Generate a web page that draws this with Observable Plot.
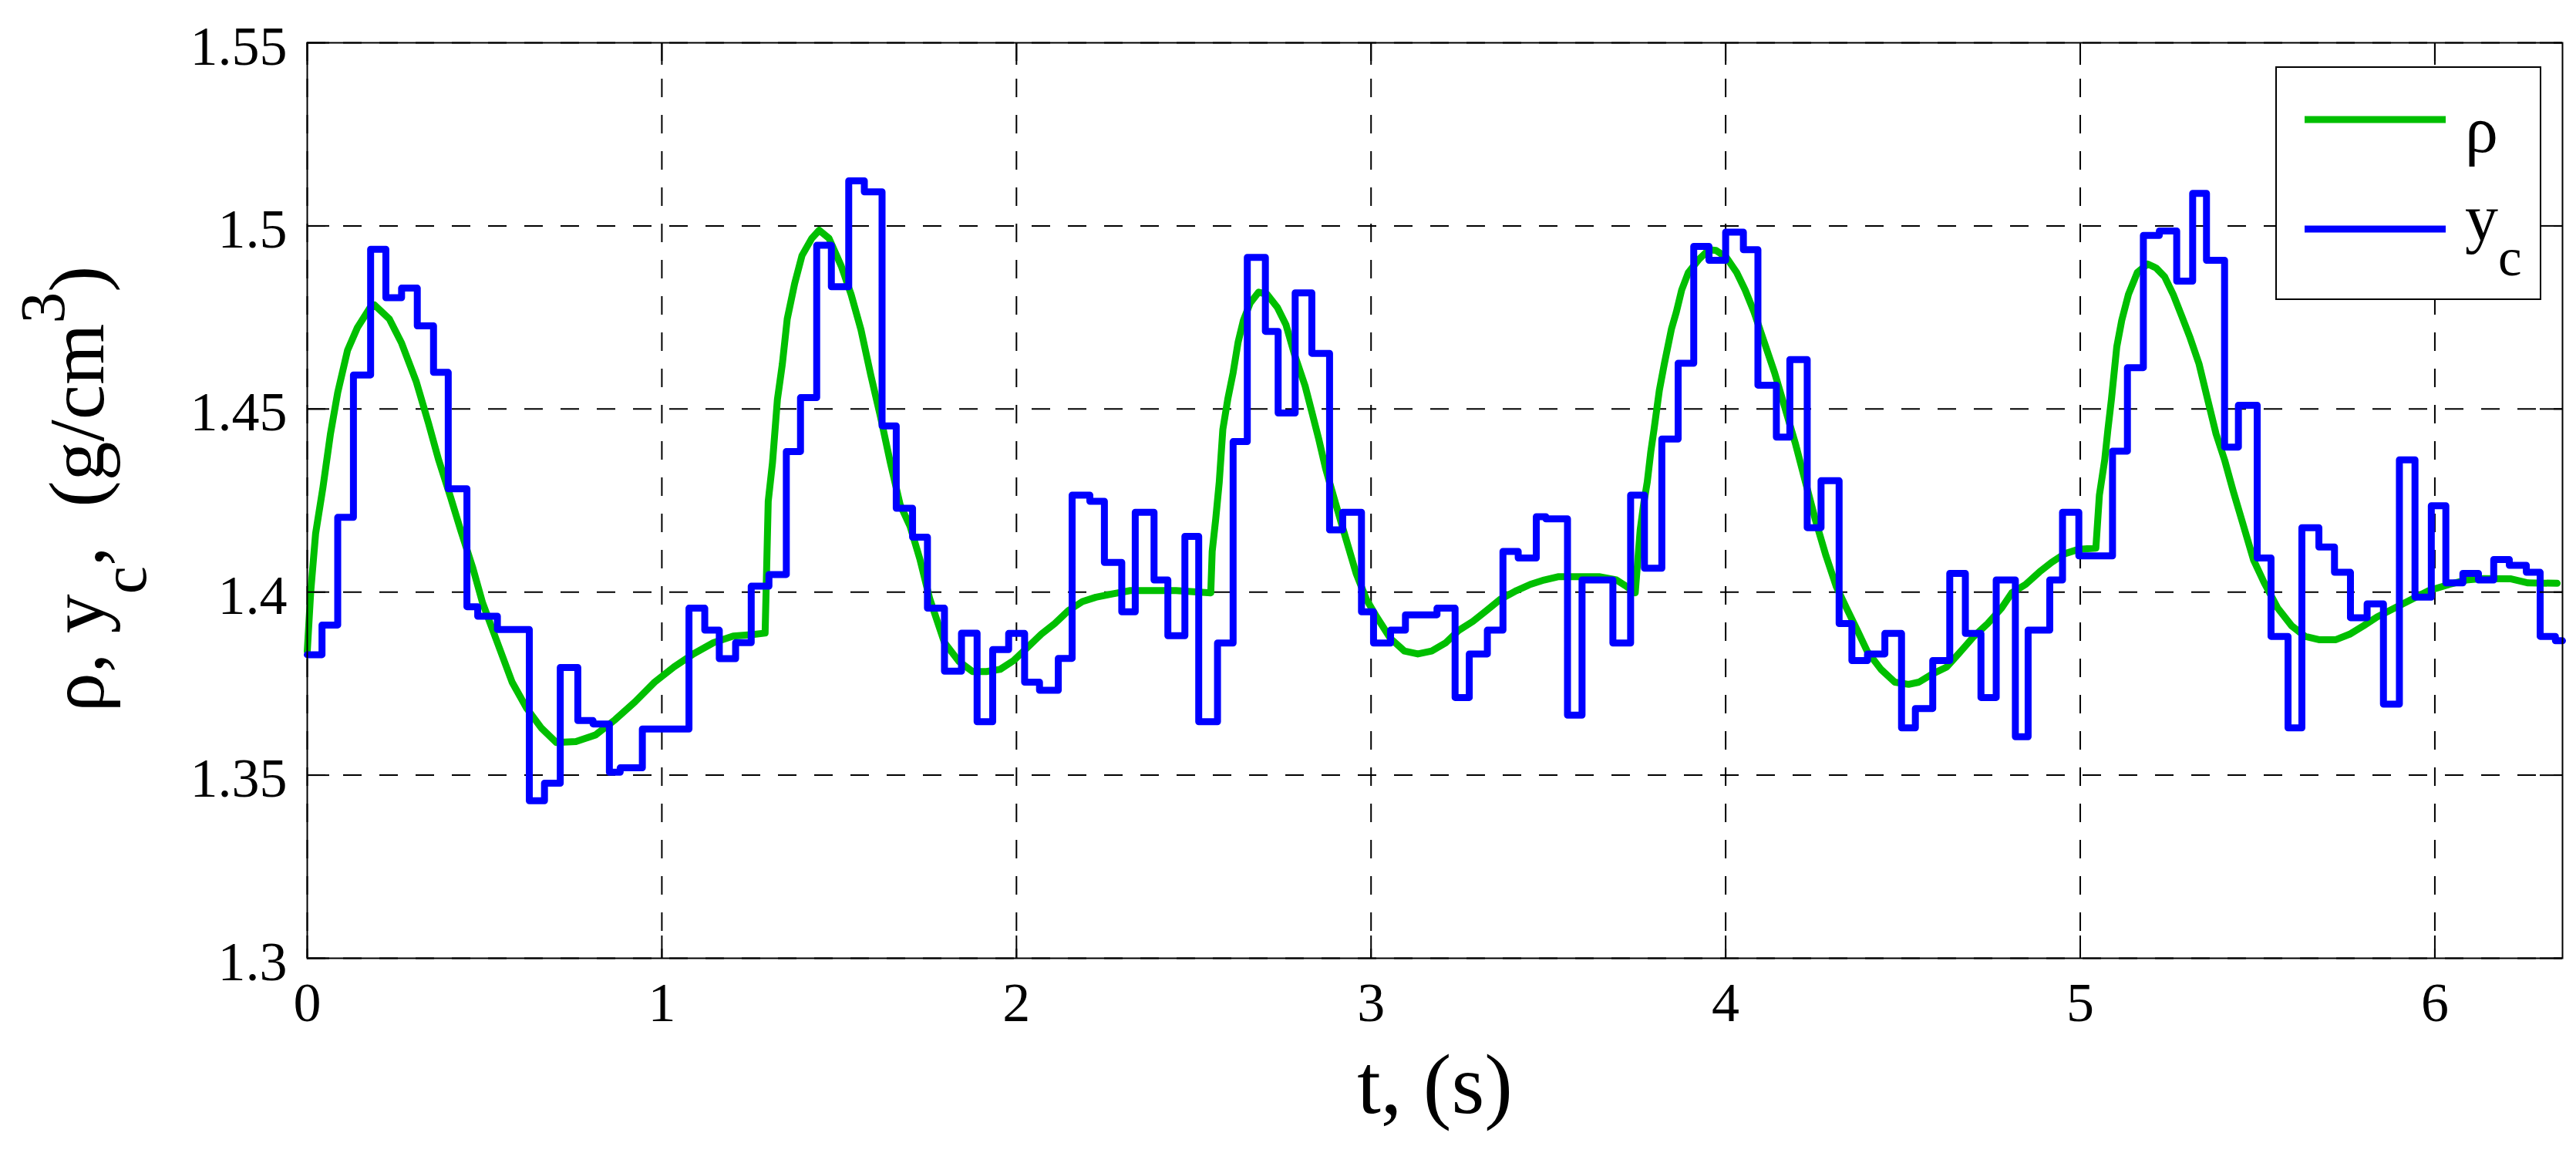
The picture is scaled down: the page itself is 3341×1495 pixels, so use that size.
<!DOCTYPE html>
<html><head><meta charset="utf-8">
<script src="https://cdn.jsdelivr.net/npm/d3@7"></script>
<script src="https://cdn.jsdelivr.net/npm/@observablehq/plot@0.6"></script>
<style>
html,body{margin:0;padding:0;background:#fff;}
#chart{position:relative;width:3341px;height:1495px;}
</style></head><body><div id="chart"></div>
<script>
// ---- data ----
const rhoT = [0,0.0097,0.0236,0.0443,0.0651,0.0859,0.1136,0.1413,0.176,0.1898,0.2314,0.266,0.3076,0.3422,0.3699,0.4045,0.4323,0.4669,0.4946,0.5362,0.5777,0.6193,0.6608,0.7024,0.7578,0.8132,0.8687,0.9241,0.9795,1.0349,1.0903,1.1458,1.2012,1.2566,1.2912,1.300,1.312,1.3259,1.3397,1.3536,1.3744,1.3952,1.4229,1.4436,1.4714,1.506,1.5337,1.5614,1.5891,1.6168,1.6445,1.6722,1.70,1.7277,1.7554,1.797,1.8385,1.876,1.915,1.954,1.992,2.031,2.070,2.108,2.147,2.186,2.224,2.27,2.321,2.45,2.548,2.552,2.562,2.572,2.582,2.596,2.611,2.625,2.640,2.659,2.683,2.707,2.736,2.760,2.785,2.814,2.833,2.852,2.872,2.900,2.929,2.958,2.987,3.016,3.055,3.094,3.132,3.171,3.210,3.248,3.287,3.326,3.364,3.410,3.449,3.488,3.527,3.565,3.643,3.692,3.721,3.745,3.759,3.769,3.779,3.789,3.798,3.813,3.827,3.847,3.861,3.876,3.895,3.924,3.953,3.973,4.002,4.031,4.055,4.080,4.109,4.138,4.167,4.196,4.225,4.254,4.283,4.312,4.341,4.371,4.400,4.438,4.477,4.516,4.545,4.584,4.623,4.662,4.700,4.739,4.778,4.807,4.846,4.885,4.919,4.957,4.996,5.044,5.054,5.069,5.078,5.088,5.103,5.117,5.136,5.161,5.190,5.214,5.238,5.262,5.286,5.310,5.335,5.359,5.383,5.407,5.431,5.460,5.489,5.518,5.557,5.596,5.634,5.673,5.721,5.760,5.799,5.837,5.886,5.934,5.983,6.041,6.089,6.137,6.215,6.263,6.345];
const rhoV = [1.3838,1.400,1.416,1.4286,1.443,1.4545,1.466,1.4722,1.4775,1.4784,1.4746,1.468,1.4574,1.446,1.4363,1.4258,1.417,1.4066,1.397,1.3862,1.3754,1.3682,1.3628,1.3589,1.3592,1.361,1.3652,1.370,1.3754,1.3796,1.3832,1.3862,1.388,1.3884,1.3888,1.4248,1.4353,1.4526,1.4622,1.4746,1.4842,1.4919,1.4966,1.4988,1.4966,1.489,1.4813,1.4717,1.4593,1.4478,1.4353,1.4238,1.418,1.409,1.3982,1.3862,1.381,1.3783,1.3783,1.3789,1.3813,1.3849,1.3885,1.3914,1.395,1.3974,1.3986,1.3995,1.4004,1.4004,1.3998,1.4111,1.420,1.4301,1.4444,1.4527,1.4599,1.4682,1.4742,1.4789,1.4819,1.4813,1.4777,1.473,1.4646,1.4563,1.4492,1.442,1.4337,1.4242,1.4146,1.4051,1.398,1.3932,1.3873,1.3839,1.3831,1.3839,1.3861,1.3896,1.392,1.395,1.398,1.4004,1.4021,1.4033,1.4042,1.4042,1.4042,1.4033,1.4015,1.3998,1.417,1.4242,1.4301,1.4384,1.4444,1.4551,1.4623,1.4718,1.4765,1.4825,1.4873,1.4908,1.4935,1.4933,1.4914,1.4873,1.4825,1.4765,1.4682,1.4599,1.4504,1.4408,1.4301,1.4194,1.4099,1.4015,1.3956,1.3896,1.3837,1.3789,1.3754,1.3748,1.3754,1.3777,1.3795,1.3837,1.3879,1.3914,1.3956,1.3998,1.4021,1.4055,1.4081,1.4105,1.4117,1.412,1.4265,1.4361,1.4444,1.4527,1.467,1.4742,1.4813,1.4873,1.4896,1.4885,1.4861,1.4813,1.4754,1.4694,1.4623,1.4527,1.4432,1.4361,1.4277,1.4182,1.4087,1.4027,1.3956,1.3908,1.3879,1.387,1.387,1.3885,1.3908,1.3932,1.3956,1.398,1.4004,1.4021,1.4033,1.4037,1.4036,1.4025,1.4024];

const ycT = [0,0.0416,0.0859,0.1302,0.1787,0.2217,0.2660,0.3103,0.3561,0.3976,0.4503,0.4807,0.5362,0.6262,0.669,0.7135,0.763,0.806,0.852,0.8825,0.945,1.0765,1.121,1.162,1.208,1.252,1.302,1.351,1.391,1.4367,1.478,1.527,1.571,1.621,1.661,1.707,1.749,1.797,1.845,1.889,1.933,1.978,2.023,2.065,2.118,2.157,2.207,2.248,2.297,2.335,2.388,2.427,2.475,2.514,2.567,2.611,2.651,2.702,2.738,2.786,2.833,2.883,2.920,2.973,3.007,3.055,3.097,3.186,3.237,3.277,3.328,3.372,3.415,3.466,3.493,3.554,3.595,3.682,3.732,3.771,3.820,3.866,3.910,3.953,4.000,4.050,4.091,4.143,4.181,4.230,4.269,4.320,4.356,4.400,4.449,4.496,4.535,4.584,4.632,4.676,4.720,4.763,4.817,4.853,4.914,4.950,4.996,5.091,5.133,5.178,5.223,5.272,5.317,5.356,5.407,5.446,5.499,5.538,5.586,5.625,5.673,5.717,5.762,5.809,5.855,5.900,5.944,5.990,6.031,6.079,6.123,6.166,6.210,6.258,6.297,6.340,6.36];
const ycV = [1.3829,1.391,1.4204,1.4593,1.4936,1.4804,1.483,1.4727,1.46,1.4282,1.396,1.3934,1.3898,1.343,1.3478,1.3794,1.3649,1.364,1.3508,1.352,1.3626,1.3956,1.3896,1.3818,1.3862,1.4016,1.4048,1.4384,1.4531,1.4947,1.4834,1.5123,1.5093,1.4454,1.4229,1.415,1.3956,1.3784,1.3888,1.3646,1.3843,1.3887,1.3754,1.3732,1.3819,1.4265,1.4248,1.4081,1.3946,1.4218,1.4033,1.3881,1.4152,1.3646,1.3861,1.4411,1.4914,1.4712,1.4489,1.4817,1.4652,1.417,1.4218,1.3946,1.3861,1.3896,1.3938,1.3956,1.3712,1.3831,1.3896,1.4111,1.4093,1.4206,1.42,1.3664,1.4033,1.3861,1.4265,1.4065,1.4418,1.4625,1.4944,1.4906,1.4983,1.4935,1.4565,1.4423,1.4635,1.4176,1.4304,1.3914,1.3813,1.3831,1.3887,1.3629,1.3682,1.3813,1.4051,1.3887,1.3712,1.4033,1.3605,1.3896,1.4033,1.4218,1.4099,1.4385,1.4613,1.4974,1.4986,1.4849,1.5089,1.4906,1.4396,1.451,1.4093,1.3879,1.3629,1.4176,1.4123,1.4054,1.393,1.3968,1.3694,1.4361,1.3986,1.4236,1.4025,1.4051,1.4033,1.4089,1.4073,1.4054,1.3879,1.3867,1.3867];

const xTicks = [0, 1, 2, 3, 4, 5, 6];
const yTicks = [1.3, 1.35, 1.4, 1.45, 1.5, 1.55];
const xDomain = [0, 6.36];
const yDomain = [1.3, 1.55];
const xLabel = "t, (s)";
const yLabelParts = [["ρ, y", ""], ["c", "sub"], [",  (g/cm", ""], ["3", "sup"], [")", ""]];
const legendParts = [[["ρ", ""]], [["y", ""], ["c", "sub"]]];
const seriesColors = ["#00bf00", "#0000ff"];

// ---- tables ----
const rho = rhoT.map((t, i) => ({t, v: rhoV[i]}));
const yc = ycT.map((t, i) => ({t, v: ycV[i]}));

const W = 3341, H = 1495, mL = 398, mR = 18, mT = 55, mB = 253;
const tickLenX = (xDomain[1] - xDomain[0]) * 29 / (W - mL - mR);
const tickLenY = (yDomain[1] - yDomain[0]) * 29 / (H - mT - mB);
const font = "'Liberation Serif','Times New Roman',Times,serif";
const grid = {stroke: "black", strokeWidth: 2, strokeDasharray: "24,23"};
const tk = {stroke: "black", strokeWidth: 2};

const plot = Plot.plot({
  width: W, height: H,
  marginLeft: mL, marginRight: mR, marginTop: mT, marginBottom: mB,
  style: {fontFamily: font, fontSize: "72px", color: "black", background: "white", overflow: "visible"},
  x: {domain: xDomain},
  y: {domain: yDomain},
  marks: [
    Plot.ruleX(xTicks, grid),
    Plot.ruleY(yTicks, grid),
    Plot.line(rho, {x: "t", y: "v", stroke: seriesColors[0], strokeWidth: 9, strokeLinejoin: "round"}),
    Plot.line(yc, {x: "t", y: "v", stroke: seriesColors[1], strokeWidth: 9, curve: "step-after", strokeLinejoin: "round"}),
    Plot.ruleX(xTicks, {...tk, y1: yDomain[0], y2: yDomain[0] + tickLenY}),
    Plot.ruleX(xTicks, {...tk, y1: yDomain[1], y2: yDomain[1] - tickLenY}),
    Plot.ruleY(yTicks, {...tk, x1: xDomain[0], x2: xDomain[0] + tickLenX}),
    Plot.ruleY(yTicks, {...tk, x1: xDomain[1], x2: xDomain[1] - tickLenX}),
    Plot.frame({stroke: "black", strokeWidth: 2}),
    Plot.axisX({ticks: xTicks, tickSize: 0, tickPadding: 30, fontSize: 72, tickFormat: d => String(d), label: null}),
    Plot.axisY({ticks: yTicks, tickSize: 0, tickPadding: 26, fontSize: 72, tickFormat: d => String(d), label: null, dy: 5}),
    Plot.text([xLabel], {frameAnchor: "bottom", dy: 200, textAnchor: "middle", lineAnchor: "bottom", fontSize: 110, text: d => d}),
    Plot.text([yLabelParts.map(p => p[0]).join("")], {frameAnchor: "left", dx: -265, dy: -15, rotate: -90, textAnchor: "middle", lineAnchor: "bottom", fontSize: 102, text: d => d})
  ]
});

document.getElementById("chart").appendChild(plot);
const svg = d3.select(plot);

function richText(textSel, parts, size, subShift, supShift) {
  textSel.text(null).style("white-space", "pre");
  let cur = 0;
  parts.forEach(([s, k]) => {
    const ts = textSel.append("tspan").text(s);
    let target = 0, fs = size;
    if (k === "sub") { target = subShift; fs = size * 0.8; }
    else if (k === "sup") { target = -supShift; fs = size * 0.8; }
    if (target !== cur) ts.attr("dy", target - cur);
    ts.attr("font-size", fs);
    cur = target;
  });
}

// y label with sub/superscript
const joined = yLabelParts.map(p => p[0]).join("");
const ylab = svg.selectAll("text").filter(function () { return this.textContent === joined; });
richText(ylab, yLabelParts, 102, 55, 51);

// legend (inside the axes, top right)
const lg = svg.append("g").attr("font-family", font).attr("text-anchor", "start");
lg.append("rect").attr("x", 2952).attr("y", 87).attr("width", 343).attr("height", 301)
  .attr("fill", "white").attr("stroke", "black").attr("stroke-width", 2);
const rowLine = [155, 297], rowBase = [197, 311];
legendParts.forEach((parts, i) => {
  lg.append("line").attr("x1", 2989).attr("x2", 3172).attr("y1", rowLine[i]).attr("y2", rowLine[i])
    .attr("stroke", seriesColors[i]).attr("stroke-width", 9);
  const t = lg.append("text").attr("x", 3197).attr("y", rowBase[i]).attr("font-size", 86)
    .attr("text-anchor", "start").attr("fill", "black");
  richText(t, parts, 86, 46, 40);
});
</script></body></html>
